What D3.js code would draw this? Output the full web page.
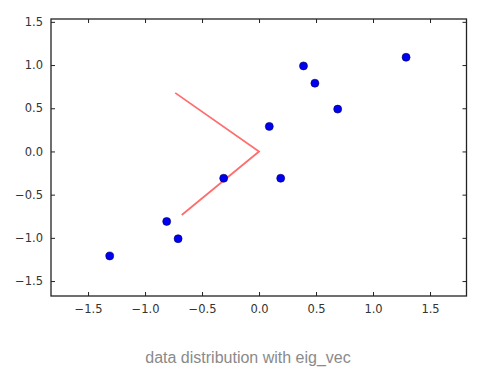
<!DOCTYPE html>
<html>
<head>
<meta charset="utf-8">
<script src="https://cdn.jsdelivr.net/npm/d3@7/dist/d3.min.js"></script>
<style>
  html, body { margin: 0; padding: 0; background: #fff; }
  svg { display: block; }
</style>
</head>
<body>
<svg id="chart" width="500" height="379"></svg>
<script>
// Mean-centred data points
const dataX = [0.69, -1.31, 0.39, 0.09, 1.29, 0.49, 0.19, -0.81, -0.31, -0.71];
const dataY = [0.49, -1.21, 0.99, 0.29, 1.09, 0.79, -0.31, -0.81, -0.31, -1.01];
// Eigenvectors (drawn as segments from origin)
const eigVecX = [-0.6779, -0.7352];
const eigVecY = [-0.7352, 0.6779];
// Tick labels
const xTicks = [-1.5, -1.0, -0.5, 0.0, 0.5, 1.0, 1.5];
const yTicks = [-1.5, -1.0, -0.5, 0.0, 0.5, 1.0, 1.5];
const captionText = "data distribution with eig_vec";

(function () {
const svg = d3.select("#chart");
const pL = 51, pR = 466.5, pT = 19, pB = 296;

const x = d3.scaleLinear().domain([-1.825, 1.82]).range([pL, pR]);
const y = d3.scaleLinear().domain([-1.673, 1.533]).range([pB, pT]);

const fmt = d => d3.format(".1f")(d).replace("-", "\u2212").replace("\u2212", "\u2212");
const tickFont = "DejaVu Sans";
const tickColor = "#333";

const gx = svg.append("g").attr("transform", `translate(0,${pB})`)
  .call(d3.axisBottom(x).tickValues(xTicks).tickFormat(fmt).tickSizeInner(-4).tickSizeOuter(0).tickPadding(9));
const gxt = svg.append("g").attr("transform", `translate(0,${pT})`)
  .call(d3.axisTop(x).tickValues(xTicks).tickFormat("").tickSizeInner(-4).tickSizeOuter(0));
const gy = svg.append("g").attr("transform", `translate(${pL},0)`)
  .call(d3.axisLeft(y).tickValues(yTicks).tickFormat(fmt).tickSizeInner(-4).tickSizeOuter(0).tickPadding(8));
const gyr = svg.append("g").attr("transform", `translate(${pR},0)`)
  .call(d3.axisRight(y).tickValues(yTicks).tickFormat("").tickSizeInner(-4).tickSizeOuter(0));

[gx, gxt, gy, gyr].forEach(g => {
  g.select(".domain").remove();
  g.selectAll(".tick line").attr("stroke", "#222").attr("stroke-width", 1);
  g.selectAll(".tick text").attr("fill", tickColor)
    .style("font-family", tickFont).style("font-size", "11.5px");
});

svg.append("rect")
  .attr("x", pL).attr("y", pT)
  .attr("width", pR - pL).attr("height", pB - pT)
  .attr("fill", "none").attr("stroke", "#222").attr("stroke-width", 1.3);

const lineData = [[eigVecX[0], eigVecY[0]], [0, 0], [eigVecX[1], eigVecY[1]]];
svg.append("path")
  .attr("d", d3.line().x(d => x(d[0])).y(d => y(d[1]))(lineData))
  .attr("fill", "none")
  .attr("stroke", "#ff6e6e")
  .attr("stroke-width", 1.8);

svg.append("g").selectAll("circle")
  .data(dataX.map((v, i) => [v, dataY[i]]))
  .join("circle")
  .attr("cx", d => x(d[0]))
  .attr("cy", d => y(d[1]))
  .attr("r", 4)
  .attr("fill", "#0000f0")
  .attr("stroke", "#000060")
  .attr("stroke-width", 0.6);

svg.append("text")
  .attr("x", 248).attr("y", 363)
  .attr("text-anchor", "middle")
  .attr("fill", "#8a8a8a")
  .style("font-family", "Liberation Sans, Arial, sans-serif")
  .style("font-size", "16px")
  .text(captionText);
})();
</script>
</body>
</html>
